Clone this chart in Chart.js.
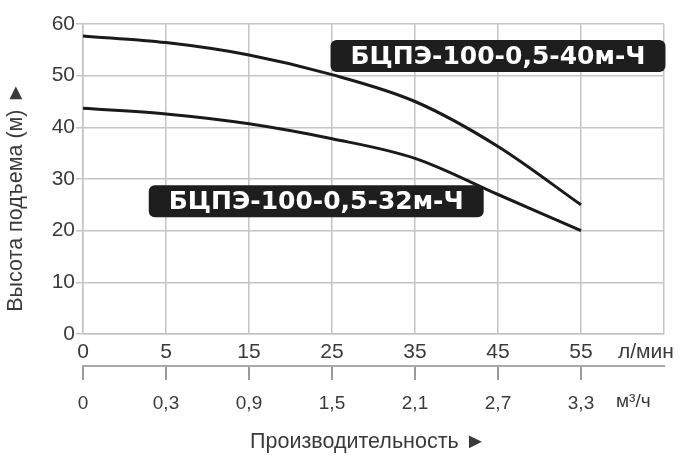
<!DOCTYPE html>
<html>
<head>
<meta charset="utf-8">
<script src="https://cdn.jsdelivr.net/npm/chart.js@4.4.0/dist/chart.umd.min.js"></script>
<style>
  html, body { margin: 0; padding: 0; background: #fff; }
  #wrap { width: 692px; height: 460px; }
</style>
</head>
<body>
<div id="wrap"><canvas id="pump-chart"></canvas></div>
<script>
// Tick labels of both flow scales
const flowLpm = ['0', '5', '15', '25', '35', '45', '55'];
const flowM3h = ['0', '0,3', '0,9', '1,5', '2,1', '2,7', '3,3'];

// Head (m) at each flow tick
const head40 = [57.7, 56.4, 54.0, 50.2, 45.0, 36.3, 25.0];
const head32 = [43.7, 42.6, 40.7, 37.8, 34.0, 27.0, 20.0];

const seriesNames = ['БЦПЭ-100-0,5-40м-Ч', 'БЦПЭ-100-0,5-32м-Ч'];

const gridColor = '#c4c4c4';
const textColor = '#3a3a3a';
const sansFont = "'Liberation Sans', Arial, sans-serif";

// Black name tags next to the curves (centre in axis units)
const tagPlugin = {
    id: 'tags',
    afterDatasetsDraw(chart) {
        const ctx = chart.ctx;
        const x = chart.scales.x, y = chart.scales.y;
        const tags = [
            { text: seriesNames[0], cx: 5.0, cy: 53.8 },
            { text: seriesNames[1], cx: 2.81, cy: 25.7 }
        ];
        ctx.save();
        ctx.font = "bold 25px 'DejaVu Sans', Verdana, sans-serif";
        tags.forEach(t => {
            const px = x.getPixelForValue(t.cx);
            const py = y.getPixelForValue(t.cy);
            const w = ctx.measureText(t.text).width + 40;
            const h = 32;
            ctx.fillStyle = '#1e1e1e';
            ctx.beginPath();
            ctx.roundRect(px - w / 2, py - h / 2, w, h, 6);
            ctx.fill();
            ctx.fillStyle = '#fff';
            ctx.textAlign = 'center';
            ctx.textBaseline = 'middle';
            ctx.fillText(t.text, px, py + 1);
        });
        ctx.restore();
    },
    afterDraw(chart) {
        const ctx = chart.ctx;
        const area = chart.chartArea;
        ctx.save();
        ctx.fillStyle = textColor;
        ctx.textBaseline = 'middle';
        // units
        ctx.textAlign = 'left';
        ctx.font = '21px ' + sansFont;
        ctx.fillText('л/мин', area.right - 46, chart.scales.x.top + 18);
        ctx.font = '19px ' + sansFont;
        ctx.fillText('м³/ч', area.right - 48, chart.scales.x2.top + 36);
        // axis titles
        ctx.textAlign = 'center';
        ctx.font = '21.5px ' + sansFont;
        ctx.fillText('Производительность ►', 368, 442);
        ctx.translate(16, 197);
        ctx.rotate(-Math.PI / 2);
        ctx.fillText('Высота подъема (м) ►', 0, 0);
        ctx.restore();
    }
};

const ctxPump = document.getElementById('pump-chart').getContext('2d');
new Chart(ctxPump, {
    type: 'line',
    data: {
        labels: flowLpm.concat(['']),
        datasets: [
            {
                label: seriesNames[0],
                data: head40,
                borderColor: '#1a1a1a',
                borderWidth: 3,
                pointRadius: 0,
                cubicInterpolationMode: 'monotone',
                fill: false
            },
            {
                label: seriesNames[1],
                data: head32,
                borderColor: '#1a1a1a',
                borderWidth: 3,
                pointRadius: 0,
                cubicInterpolationMode: 'monotone',
                fill: false
            }
        ]
    },
    options: {
        responsive: true,
        maintainAspectRatio: false,
        animation: false,
        layout: { padding: { top: 24, right: 28, left: 0, bottom: 0 } },
        plugins: {
            legend: { display: false },
            tooltip: { enabled: false }
        },
        scales: {
            x: {
                type: 'category',
                offset: false,
                weight: 0,
                grid: { color: gridColor, lineWidth: 1.5, drawTicks: false },
                border: { color: gridColor, width: 1.5 },
                ticks: {
                    color: textColor,
                    font: { family: sansFont, size: 21 },
                    padding: 6,
                    maxRotation: 0,
                    autoSkip: false
                },
                afterFit: s => { s.height = 32; }
            },
            x2: {
                type: 'category',
                position: 'bottom',
                labels: flowM3h.concat(['']),
                offset: false,
                weight: 1,
                grid: {
                    drawOnChartArea: false,
                    tickLength: 14,
                    lineWidth: 2,
                    tickColor: c => (c.index === flowM3h.length ? 'rgba(0,0,0,0)' : '#9a9a9a')
                },
                border: { color: '#a8a8a8', width: 2 },
                ticks: {
                    color: textColor,
                    font: { family: sansFont, size: 19 },
                    padding: 12,
                    maxRotation: 0,
                    autoSkip: false
                },
                afterFit: s => { s.height = 94; }
            },
            y: {
                min: 0,
                max: 60,
                grid: {
                    color: c => (c.tick && c.tick.value % 10 === 0 ? gridColor : 'rgba(0,0,0,0)'),
                    tickColor: gridColor,
                    tickLength: 7,
                    lineWidth: 1.5
                },
                border: { color: gridColor, width: 1.5 },
                ticks: {
                    stepSize: 5,
                    color: textColor,
                    font: { family: sansFont, size: 21 },
                    padding: 1,
                    callback: v => (v % 10 === 0 ? v : '')
                },
                afterFit: s => { s.width = 83; }
            }
        }
    },
    plugins: [tagPlugin]
});
</script>
</body>
</html>
